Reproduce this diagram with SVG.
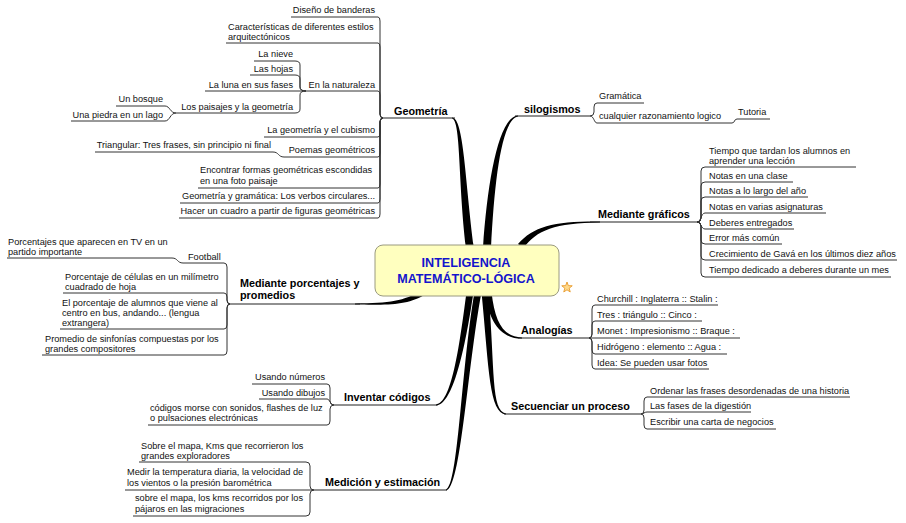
<svg xmlns="http://www.w3.org/2000/svg" width="906" height="523" viewBox="0 0 906 523">
<style>
.t{font-family:"Liberation Sans",Arial,sans-serif;font-size:9.2px;fill:#111}
.e{text-anchor:end}
.m{font-family:"Liberation Sans",Arial,sans-serif;font-size:10.8px;font-weight:bold;fill:#000}
.c{font-family:"Liberation Sans",Arial,sans-serif;font-size:12.6px;font-weight:bold;fill:#1414cc;text-anchor:middle}
.u{stroke:#333;stroke-width:1;fill:none}
.mu{stroke:#222;stroke-width:1.2;fill:none}
.k{stroke:#333;stroke-width:1;fill:none}
.b{fill:#000;stroke:none}
</style>
<rect width="906" height="523" fill="#fff"/>
<g id="connectors">
  <!-- main tapered branches -->
  <path class="b" d="M466,248 C458,180 461,120.5 452,118.6 L452,117.4 C464,117.5 465,180 474,248 Z"/>
  <path class="b" d="M483,248 C487.5,180 499,116.5 518,115.4 L518,116.6 C501.5,119.5 494.5,180 491,248 Z"/>
  <path class="b" d="M518,244 C533.5,226 555,221 600,221.4 L600,222.6 C555,223.2 536.5,230 523.5,248.5 Z"/>
  <path class="b" d="M421,290.5 C404.3,301 390,303.2 355,303.4 L355,304.6 C390,305 405.7,305.2 423.5,295.5 Z"/>
  <path class="b" d="M484.5,292 C489,322 501.2,339 522,338.6 L522,337.4 C502.8,337 495,322 491.5,292 Z"/>
  <path class="b" d="M466.5,292 C459,350 451.2,403 436,404.4 L436,405.6 C452.8,405 465,350 473.5,292 Z"/>
  <path class="b" d="M474.5,292 C461,370 458.2,486 446,489.4 L446,490.6 C460.8,489 467,370 481.5,292 Z"/>
  <path class="b" d="M481.5,292 C489,370 489.2,413 506,414.6 L506,413.4 C490.8,411 495,370 488.5,292 Z"/>
  <!-- Geometría brackets -->
  <path class="k" d="M383,118 Q380,118 380,114 L380,21 Q380,17 378,17"/>
  <path class="k" d="M383,118 Q380,118 380,114 L380,47 Q380,43 378,43"/>
  <path class="k" d="M383,118 Q380,118 380,114 L380,95 Q380,91 378,91"/>
  <path class="k" d="M383,118 Q380,118 380,122 L380,133 Q380,137 378,137"/>
  <path class="k" d="M383,118 Q380,118 380,122 L380,153 Q380,157 378,157"/>
  <path class="k" d="M383,118 Q380,118 380,122 L380,184 Q380,188 378,188"/>
  <path class="k" d="M383,118 Q380,118 380,122 L380,199 Q380,203 378,203"/>
  <path class="k" d="M383,118 Q380,118 380,122 L380,214 Q380,218 378,218"/>
  <path class="k" d="M306,91 Q300,91 300,87 L300,65 Q300,61 295,61"/>
  <path class="k" d="M306,91 Q300,91 300,87 L300,79 Q300,75 295,75"/>
  <path class="k" d="M306,91 L295,91"/>
  <path class="k" d="M306,91 Q300,91 300,95 L300,109 Q300,113 295,113"/>
  <path class="k" d="M176,113 C170,113 170,106 165,106"/>
  <path class="k" d="M176,113 C170,113 170,121 165,121"/>
  <path class="k" d="M284,157 C278,157 279,152 273,152"/>
  <!-- silogismos -->
  <path class="k" d="M590,116 Q594,116 594,112 L594,107 Q594,103 597,103"/>
  <path class="k" d="M590,116 C594,116 594,123 597,123"/>
  <path class="k" d="M732,123 C735,123 734,119 737,119"/>
  <!-- Mediante gráficos -->
  <path class="k" d="M697,222 Q701,222 701,218 L701,171 Q701,167 705,167"/>
  <path class="k" d="M697,222 Q701,222 701,218 L701,186 Q701,182 705,182"/>
  <path class="k" d="M697,222 Q701,222 701,218 L701,201 Q701,197 705,197"/>
  <path class="k" d="M697,222 C701,222 701,213 705,213"/>
  <path class="k" d="M697,222 C701,222 701,229 705,229"/>
  <path class="k" d="M697,222 Q701,222 701,226 L701,240 Q701,244 705,244"/>
  <path class="k" d="M697,222 Q701,222 701,226 L701,256 Q701,260 705,260"/>
  <path class="k" d="M697,222 Q701,222 701,226 L701,273 Q701,277 705,277"/>
  <!-- Mediante porcentajes -->
  <path class="k" d="M230,304 Q227,304 227,300 L227,267 Q227,263 224,263"/>
  <path class="k" d="M230,304 Q227,304 227,300 L227,297 Q227,293 224,293"/>
  <path class="k" d="M230,304 Q227,304 227,308 L227,325 Q227,329 224,329"/>
  <path class="k" d="M230,304 Q227,304 227,308 L227,351 Q227,355 224,355"/>
  <path class="k" d="M183,263 C177,263 178,258 172,258"/>
  <!-- Analogías -->
  <path class="k" d="M589,338 Q592,338 592,334 L592,309 Q592,305 595,305"/>
  <path class="k" d="M589,338 Q592,338 592,334 L592,325 Q592,321 595,321"/>
  <path class="k" d="M589,338 L595,338"/>
  <path class="k" d="M589,338 Q592,338 592,342 L592,350 Q592,354 595,354"/>
  <path class="k" d="M589,338 Q592,338 592,342 L592,365 Q592,369 595,369"/>
  <!-- Inventar códigos -->
  <path class="k" d="M334,405 Q330,405 330,401 L330,388 Q330,384 327,384"/>
  <path class="k" d="M334,405 C330,405 330,399 327,399"/>
  <path class="k" d="M334,405 Q330,405 330,409 L330,421 Q330,425 327,425"/>
  <!-- Medición -->
  <path class="k" d="M314,490 Q310,490 310,486 L310,466 Q310,462 306,462"/>
  <path class="k" d="M314,490 L306,490"/>
  <path class="k" d="M314,490 Q310,490 310,494 L310,512 Q310,516 306,516"/>
  <!-- Secuenciar -->
  <path class="k" d="M641,414 Q644,414 644,410 L644,401 Q644,397 647,397"/>
  <path class="k" d="M641,414 C644,414 644,412 647,412"/>
  <path class="k" d="M641,414 Q644,414 644,418 L644,425 Q644,429 647,429"/>
</g>

<g id="center">
  <rect x="375" y="245" width="184" height="51" rx="8" fill="#ffffbf" stroke="#9a9a80" stroke-width="1"/>
  <text class="c" x="466" y="266.5">INTELIGENCIA</text>
  <text class="c" x="466" y="282.5">MATEMÁTICO-LÓGICA</text>
  <polygon points="567,282 568.35,285.64 572.23,285.8 569.19,288.21 570.23,291.95 567,289.8 563.77,291.95 564.81,288.21 561.77,285.8 565.65,285.64" fill="#ffd98a" stroke="#e89a2a" stroke-width="0.9" stroke-linejoin="round"/>
</g>

<g id="geometria">
  <text class="m" x="394" y="115">Geometría</text>
  <line class="mu" x1="383" y1="118" x2="455" y2="118"/>
</g>
<g id="g-banderas"><text class="t e" x="375" y="13">Diseño de banderas</text><line class="u" x1="291" y1="17" x2="378" y2="17"/></g>
<g id="g-arquitectura"><text class="t" x="228" y="30">Características de diferentes estilos<tspan x="228" y="40">arquitectónicos</tspan></text><line class="u" x1="226" y1="43" x2="378" y2="43"/></g>
<g id="g-naturaleza"><text class="t e" x="375" y="88">En la naturaleza</text><line class="u" x1="306" y1="91" x2="378" y2="91"/></g>
<g id="g-nieve"><text class="t e" x="293" y="57">La nieve</text><line class="u" x1="254" y1="61" x2="295" y2="61"/></g>
<g id="g-hojas"><text class="t e" x="293" y="72">Las hojas</text><line class="u" x1="250" y1="75" x2="295" y2="75"/></g>
<g id="g-luna"><text class="t e" x="293" y="88">La luna en sus fases</text><line class="u" x1="205" y1="91" x2="295" y2="91"/></g>
<g id="g-paisajes"><text class="t e" x="293" y="110">Los paisajes y la geometría</text><line class="u" x1="176" y1="113" x2="295" y2="113"/></g>
<g id="g-bosque"><text class="t e" x="163" y="102">Un bosque</text><line class="u" x1="116" y1="106" x2="165" y2="106"/></g>
<g id="g-piedra"><text class="t e" x="163" y="118">Una piedra en un lago</text><line class="u" x1="71" y1="121" x2="165" y2="121"/></g>
<g id="g-cubismo"><text class="t e" x="375" y="133">La geometría y el cubismo</text><line class="u" x1="264" y1="137" x2="378" y2="137"/></g>
<g id="g-poemas"><text class="t e" x="375" y="153">Poemas geométricos</text><line class="u" x1="284" y1="157" x2="378" y2="157"/></g>
<g id="g-triangular"><text class="t e" x="271" y="148">Triangular: Tres frases, sin principio ni final</text><line class="u" x1="95" y1="152" x2="273" y2="152"/></g>
<g id="g-encontrar"><text class="t" x="200" y="173">Encontrar formas geométricas escondidas<tspan x="200" y="184">en una foto paisaje</tspan></text><line class="u" x1="198" y1="188" x2="378" y2="188"/></g>
<g id="g-gramatica"><text class="t e" x="375" y="199">Geometría y gramática: Los verbos circulares...</text><line class="u" x1="180" y1="203" x2="378" y2="203"/></g>
<g id="g-cuadro"><text class="t e" x="375" y="214">Hacer un cuadro a partir de figuras geométricas</text><line class="u" x1="179" y1="218" x2="378" y2="218"/></g>

<g id="silogismos">
  <text class="m" x="524" y="113">silogismos</text>
  <line class="mu" x1="515" y1="116" x2="590" y2="116"/>
</g>
<g id="s-gramatica"><text class="t" x="599" y="99">Gramática</text><line class="u" x1="597" y1="103" x2="644" y2="103"/></g>
<g id="s-razonamiento"><text class="t" x="599" y="119">cualquier razonamiento logico</text><line class="u" x1="597" y1="123" x2="732" y2="123"/></g>
<g id="s-tutoria"><text class="t" x="738" y="115">Tutoria</text><line class="u" x1="737" y1="119" x2="770" y2="119"/></g>

<g id="graficos">
  <text class="m" x="598" y="218">Mediante gráficos</text>
  <line class="mu" x1="590" y1="222" x2="697" y2="222"/>
</g>
<g id="gr-tiempo"><text class="t" x="709" y="154">Tiempo que tardan los alumnos en<tspan x="709" y="164">aprender una lección</tspan></text><line class="u" x1="705" y1="167" x2="856" y2="167"/></g>
<g id="gr-clase"><text class="t" x="709" y="179">Notas en una clase</text><line class="u" x1="705" y1="182" x2="793" y2="182"/></g>
<g id="gr-ano"><text class="t" x="709" y="194">Notas a lo largo del año</text><line class="u" x1="705" y1="197" x2="808" y2="197"/></g>
<g id="gr-asignaturas"><text class="t" x="709" y="210">Notas en varias asignaturas</text><line class="u" x1="705" y1="213" x2="826" y2="213"/></g>
<g id="gr-deberes"><text class="t" x="709" y="226">Deberes entregados</text><line class="u" x1="705" y1="229" x2="794" y2="229"/></g>
<g id="gr-error"><text class="t" x="709" y="241">Error más común</text><line class="u" x1="705" y1="244" x2="782" y2="244"/></g>
<g id="gr-gava"><text class="t" x="709" y="257">Crecimiento de Gavá en los últimos diez años</text><line class="u" x1="705" y1="260" x2="897" y2="260"/></g>
<g id="gr-mes"><text class="t" x="709" y="273">Tiempo dedicado a deberes durante un mes</text><line class="u" x1="705" y1="277" x2="891" y2="277"/></g>

<g id="porcentajes">
  <text class="m" x="240" y="287">Mediante porcentajes y<tspan x="240" y="299">promedios</tspan></text>
  <line class="mu" x1="230" y1="304" x2="360" y2="304"/>
</g>
<g id="p-football"><text class="t" x="188" y="260">Football</text><line class="u" x1="183" y1="263" x2="224" y2="263"/></g>
<g id="p-tv"><text class="t" x="8" y="245">Porcentajes que aparecen en TV en un<tspan x="8" y="255">partido importante</tspan></text><line class="u" x1="7" y1="258" x2="172" y2="258"/></g>
<g id="p-celulas"><text class="t" x="65" y="280">Porcentaje de células en un milímetro<tspan x="65" y="290">cuadrado de hoja</tspan></text><line class="u" x1="63" y1="293" x2="224" y2="293"/></g>
<g id="p-alumnos"><text class="t" x="62" y="306">El porcentaje de alumnos que viene al<tspan x="62" y="316">centro en bus, andando... (lengua</tspan><tspan x="62" y="326">extrangera)</tspan></text><line class="u" x1="60" y1="329" x2="224" y2="329"/></g>
<g id="p-sinfonias"><text class="t" x="45" y="342">Promedio de sinfonías compuestas por los<tspan x="45" y="352">grandes compositores</tspan></text><line class="u" x1="42" y1="355" x2="224" y2="355"/></g>

<g id="analogias">
  <text class="m" x="521" y="334">Analogías</text>
  <line class="mu" x1="518" y1="338" x2="589" y2="338"/>
</g>
<g id="a-churchill"><text class="t" x="597" y="302">Churchill : Inglaterra :: Stalin :</text><line class="u" x1="595" y1="305" x2="718" y2="305"/></g>
<g id="a-tres"><text class="t" x="597" y="318">Tres : triángulo :: Cinco :</text><line class="u" x1="595" y1="321" x2="702" y2="321"/></g>
<g id="a-monet"><text class="t" x="597" y="334">Monet : Impresionismo :: Braque :</text><line class="u" x1="595" y1="338" x2="740" y2="338"/></g>
<g id="a-hidrogeno"><text class="t" x="597" y="350">Hidrógeno : elemento :: Agua :</text><line class="u" x1="595" y1="354" x2="727" y2="354"/></g>
<g id="a-idea"><text class="t" x="597" y="366">Idea: Se pueden usar fotos</text><line class="u" x1="595" y1="369" x2="709" y2="369"/></g>

<g id="codigos">
  <text class="m" x="344" y="401">Inventar códigos</text>
  <line class="mu" x1="334" y1="405" x2="437" y2="405"/>
</g>
<g id="c-numeros"><text class="t e" x="325" y="380">Usando números</text><line class="u" x1="252" y1="384" x2="327" y2="384"/></g>
<g id="c-dibujos"><text class="t e" x="325" y="396">Usando dibujos</text><line class="u" x1="259" y1="399" x2="327" y2="399"/></g>
<g id="c-morse"><text class="t" x="150" y="411">códigos morse con sonidos, flashes de luz<tspan x="150" y="421">o pulsaciones electrónicas</tspan></text><line class="u" x1="148" y1="425" x2="327" y2="425"/></g>

<g id="secuenciar">
  <text class="m" x="511" y="410">Secuenciar un proceso</text>
  <line class="mu" x1="504" y1="414" x2="641" y2="414"/>
</g>
<g id="q-ordenar"><text class="t" x="650" y="394">Ordenar las frases desordenadas de una historia</text><line class="u" x1="647" y1="397" x2="850" y2="397"/></g>
<g id="q-digestion"><text class="t" x="650" y="409">Las fases de la digestión</text><line class="u" x1="647" y1="412" x2="751" y2="412"/></g>
<g id="q-carta"><text class="t" x="650" y="425">Escribir una carta de negocios</text><line class="u" x1="647" y1="429" x2="776" y2="429"/></g>

<g id="medicion">
  <text class="m" x="325" y="486">Medición y estimación</text>
  <line class="mu" x1="314" y1="490" x2="447" y2="490"/>
</g>
<g id="m-exploradores"><text class="t" x="141" y="449">Sobre el mapa, Kms que recorrieron los<tspan x="141" y="459">grandes exploradores</tspan></text><line class="u" x1="139" y1="462" x2="306" y2="462"/></g>
<g id="m-temperatura"><text class="t" x="127" y="475">Medir la temperatura diaria, la velocidad de<tspan x="127" y="486">los vientos o la presión barométrica</tspan></text><line class="u" x1="125" y1="490" x2="306" y2="490"/></g>
<g id="m-pajaros"><text class="t" x="135" y="501">sobre el mapa, los kms recorridos por los<tspan x="135" y="512">pájaros en las migraciones</tspan></text><line class="u" x1="133" y1="516" x2="306" y2="516"/></g>
</svg>
